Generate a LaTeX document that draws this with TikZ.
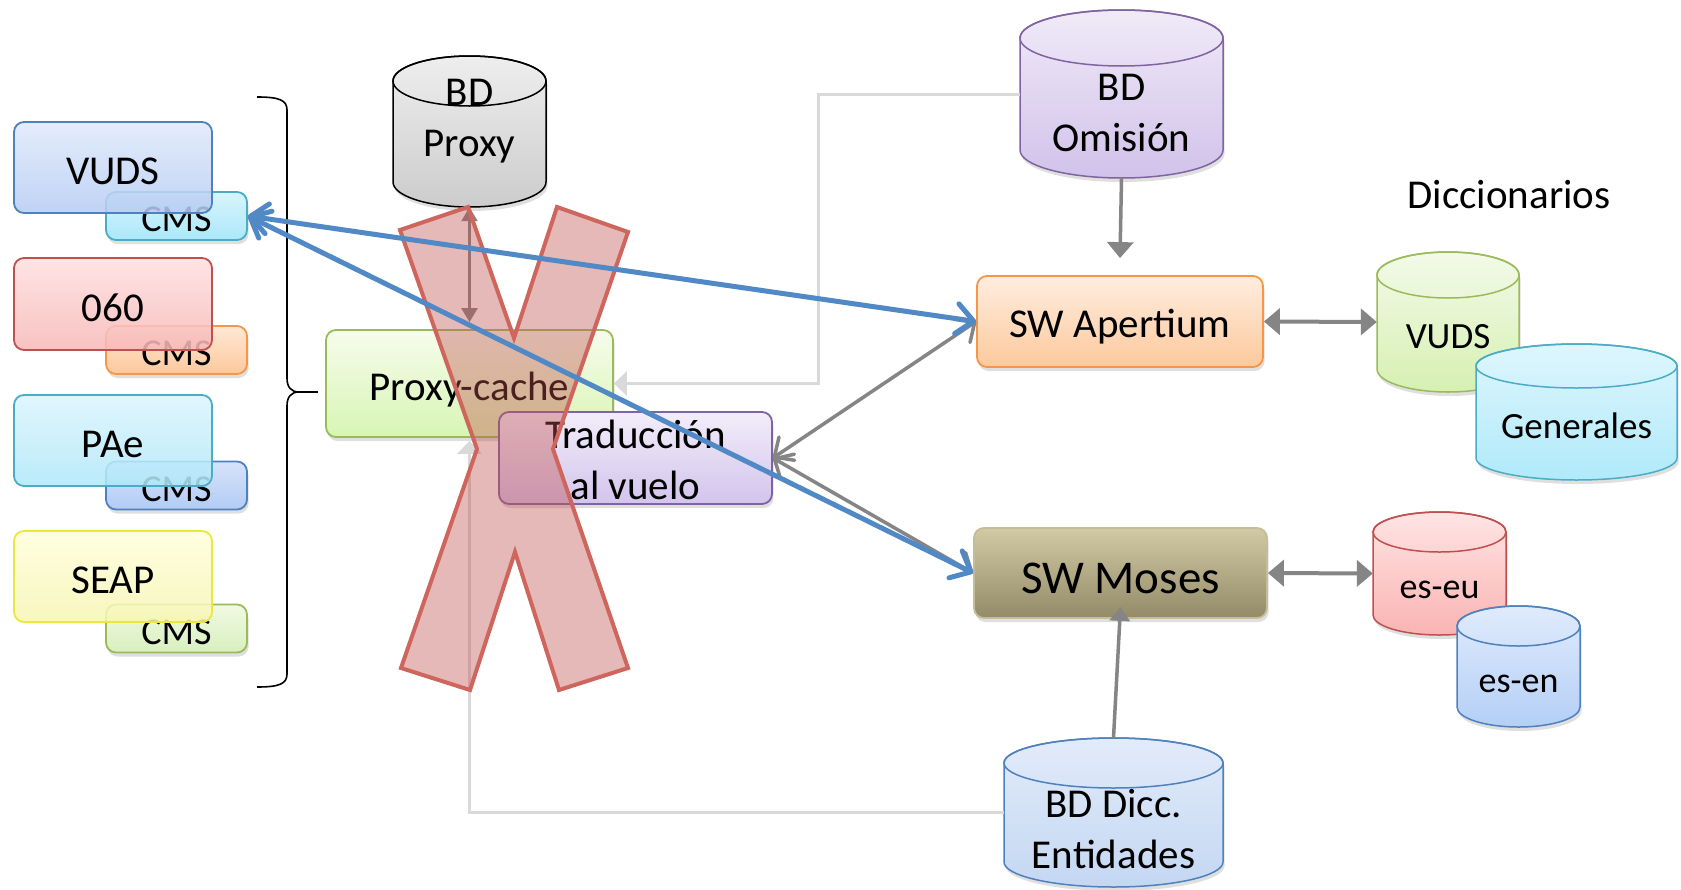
\documentclass[tikz,border=0pt]{standalone}
\usepackage{fontspec}
\setmainfont{Carlito}
\usetikzlibrary{arrows.meta,shadows,calc}
\definecolor{cBlue}{RGB}{80,137,198}
\definecolor{cGray}{RGB}{133,133,133}
\definecolor{cLight}{RGB}{217,217,217}
\definecolor{cXfill}{RGB}{192,80,77}
\definecolor{cXline}{RGB}{207,102,94}
\definecolor{bBlue}{RGB}{79,129,189}
\definecolor{bCyan}{RGB}{75,172,198}
\definecolor{bRed}{RGB}{192,80,77}
\definecolor{bOrange}{RGB}{247,150,70}
\definecolor{bGreen}{RGB}{155,187,89}
\definecolor{bYellow}{RGB}{235,232,60}
\definecolor{bPurple}{RGB}{128,100,162}
\definecolor{bTan}{RGB}{196,189,151}
% cylinder colour sets
\definecolor{cpxT}{RGB}{238,238,238}\definecolor{cpxB}{RGB}{204,204,204}\definecolor{cpxD}{RGB}{0,0,0}
\definecolor{comT}{RGB}{240,234,248}\definecolor{comB}{RGB}{209,194,234}\colorlet{comD}{bPurple}
\definecolor{cdiT}{RGB}{226,235,250}\definecolor{cdiB}{RGB}{196,215,242}\colorlet{cdiD}{bBlue}
\definecolor{cvuT}{RGB}{243,250,233}\definecolor{cvuB}{RGB}{214,240,178}\colorlet{cvuD}{bGreen}
\definecolor{cgeT}{RGB}{222,246,253}\definecolor{cgeB}{RGB}{176,234,250}\colorlet{cgeD}{bCyan}
\definecolor{ceuT}{RGB}{255,228,228}\definecolor{ceuB}{RGB}{249,180,178}\colorlet{ceuD}{bRed}
\definecolor{cenT}{RGB}{224,235,252}\definecolor{cenB}{RGB}{180,207,246}\colorlet{cenD}{bBlue}
% box colours
\definecolor{vudsT}{RGB}{224,234,252}\definecolor{vudsB}{RGB}{182,204,244}
\definecolor{cmsAT}{RGB}{216,244,252}\definecolor{cmsAB}{RGB}{172,232,250}
\definecolor{oT}{RGB}{255,224,224}\definecolor{oB}{RGB}{248,184,184}
\definecolor{cmsBT}{RGB}{255,232,213}\definecolor{cmsBB}{RGB}{252,200,156}
\definecolor{paeT}{RGB}{220,245,253}\definecolor{paeB}{RGB}{176,232,250}
\definecolor{cmsCT}{RGB}{214,227,250}\definecolor{cmsCB}{RGB}{178,204,245}
\definecolor{seapT}{RGB}{255,255,220}\definecolor{seapB}{RGB}{248,246,180}
\definecolor{cmsDT}{RGB}{240,250,227}\definecolor{cmsDB}{RGB}{216,239,190}
\definecolor{proxyT}{RGB}{246,252,236}\definecolor{proxyB}{RGB}{216,245,180}
\definecolor{tradT}{RGB}{242,237,250}\definecolor{tradB}{RGB}{211,196,236}
\definecolor{apT}{RGB}{255,237,224}\definecolor{apB}{RGB}{252,201,156}
\definecolor{moT}{RGB}{209,202,165}\definecolor{moB}{RGB}{147,139,103}
\newcommand\fsA{\fontsize{41pt}{51pt}\selectfont}
\newcommand\fsM{\fontsize{47pt}{56pt}\selectfont}
\newcommand\fsC{\fontsize{38pt}{46pt}\selectfont}
\newcommand\fsS{\fontsize{37pt}{45pt}\selectfont}
\newcommand\fsE{\fontsize{36pt}{44pt}\selectfont}
% #1 name, #2 x1, #3 y1, #4 x2, #5 y2, #6 ry, #7 colour set, #8 node options, #9 text
\newcommand\dbcyl[9]{%
 \pgfmathsetmacro\cylcx{(#2+#4)/2}%
 \pgfmathsetmacro\cylcy{(#3+#5)/2}%
 \pgfmathsetmacro\cylrx{(#4-#2)/2}%
 \pgfmathsetmacro\cylw{#4-#2}%
 \pgfmathsetmacro\cylh{#5-#3}%
 \draw[cyl, shad, draw=#7D, top color=#7T, bottom color=#7B]
   (#2,#3+#6) -- (#2,#5-#6) arc[start angle=180,end angle=0,x radius=\cylrx,y radius=#6]
   -- (#4,#3+#6) arc[start angle=0,end angle=-180,x radius=\cylrx,y radius=#6] -- cycle;
 \draw[cyl, draw=#7D] (\cylcx,#3+#6) ellipse[x radius=\cylrx, y radius=#6];
 \node[inner sep=0pt, minimum width=\cylw pt, minimum height=\cylh pt, #8] (#1) at (\cylcx,\cylcy) {\parbox[t]{\cylw pt}{\centering #9}};
}
\begin{document}
\begin{tikzpicture}[x=1pt,y=-1pt,
  rbox/.style={rounded corners=10pt, line width=1.8pt, inner sep=0pt, text depth=0pt},
  shad/.style={drop shadow={opacity=0.25, shadow xshift=1.5pt, shadow yshift=-4pt}},
  tbox/.style={fill opacity=0.86, text opacity=1},
  cyl/.style={line width=1.5pt},
  gline/.style={draw=cGray, line width=3.5pt},
  lline/.style={draw=cLight, line width=3pt},
  bline/.style={draw=cBlue, line width=5pt, >={Straight Barb[length=17pt,width=30pt,round]}, <->},
  gbarb/.style={gline, >={Straight Barb[length=15pt,width=28pt,round]}, <->},
  gtri/.style={gline, >={Triangle[width=26pt,length=16pt]}},
  ltri/.style={lline, >={Triangle[width=24pt,length=13pt]}, ->},
]
\useasboundingbox (0,0) rectangle (1681,889);
\fill[white] (0,0) rectangle (1681,889);

\coordinate (omcorner) at (818,383.5);

% ---------- left group ----------
\node[rbox, shad, top color=cmsAT, bottom color=cmsAB, draw=bCyan, minimum width=141pt, minimum height=48pt, text height=31pt, font=\fsC] (cms1) at (176.5,216) {CMS};
\node[rbox, tbox, top color=vudsT, bottom color=vudsB, draw=bBlue, minimum width=198pt, minimum height=91pt, text height=34pt, font=\fsA] (vuds) at (113,167.5) {VUDS};
\node[rbox, shad, top color=cmsBT, bottom color=cmsBB, draw=bOrange, minimum width=141pt, minimum height=48pt, text height=31pt, font=\fsC] (cms2) at (176.5,350) {CMS};
\node[rbox, tbox, top color=oT, bottom color=oB, draw=bRed, minimum width=198pt, minimum height=92pt, text height=34pt, font=\fsA] (n060) at (113,304) {060};
\node[rbox, shad, top color=cmsCT, bottom color=cmsCB, draw=bBlue, minimum width=141pt, minimum height=48pt, text height=31pt, font=\fsC] (cms3) at (176.5,485.5) {CMS};
\node[rbox, tbox, top color=paeT, bottom color=paeB, draw=bCyan, minimum width=198pt, minimum height=91pt, text height=34pt, font=\fsA] (pae) at (113,440.5) {PAe};
\node[rbox, shad, top color=cmsDT, bottom color=cmsDB, draw=bGreen, minimum width=141pt, minimum height=48pt, text height=31pt, font=\fsC] (cms4) at (176.5,628.5) {CMS};
\node[rbox, tbox, top color=seapT, bottom color=seapB, draw=bYellow, minimum width=198pt, minimum height=91pt, text height=34pt, font=\fsA] (seap) at (113,576.5) {SEAP};

% brace
\coordinate (bracetip) at (299,392);
\draw[black, line width=1.6pt] (257,97) .. controls (279,97) and (287,100) .. (287,110) -- (287,378)
  .. controls (287,387) and (291,392) .. (bracetip) .. controls (291,392) and (287,397) .. (287,406)
  -- (287,674) .. controls (287,684) and (279,687) .. (257,687);
\draw[black, line width=1.6pt] (bracetip) -- (318,392);

% ---------- cylinders ----------
\dbcyl{bdproxy}{393}{56}{546}{207}{25}{cpx}{text height=20pt, text depth=73pt, font=\fsA}{BD\\Proxy}
\dbcyl{bdom}{1020}{10}{1223}{178}{28}{com}{text height=40pt, text depth=28pt, font=\fsA}{BD\\Omisión}
\dbcyl{bdicc}{1004}{738}{1223}{887}{25}{cdi}{text height=40pt, text depth=31pt, font=\fsA}{BD Dicc.\\Entidades}
\dbcyl{vudsd}{1377}{252}{1519}{392}{23}{cvu}{text height=52pt, text depth=0pt, font=\fsS}{VUDS}
\dbcyl{gen}{1476}{344}{1677}{480}{22}{cge}{text height=52pt, text depth=0pt, font=\fsS}{Generales}
\dbcyl{eseu}{1373}{512}{1506}{635}{20}{ceu}{text height=49pt, text depth=0pt, font=\fsE}{es-eu}
\dbcyl{esen}{1457}{606}{1580}{727}{20}{cen}{text height=51pt, text depth=0pt, font=\fsE}{es-en}

% ---------- middle / right boxes ----------
\node[rbox, shad, top color=proxyT, bottom color=proxyB, draw=bGreen, minimum width=287pt, minimum height=107pt, text height=33pt, font=\fsA] (proxy) at (469.5,383.5) {Proxy-cache};
\node[rbox, shad, top color=tradT, bottom color=tradB, draw=bPurple, minimum width=273pt, minimum height=92pt, text height=20pt, text depth=40pt, font=\fsA] (trad) at (635.5,458) {\parbox[t]{273pt}{\centering Traducción\\al vuelo}};
\node[rbox, shad, top color=apT, bottom color=apB, draw=bOrange, minimum width=286pt, minimum height=91pt, text height=31pt, font=\fsA] (apertium) at (1120,321.5) {SW Apertium};
\node[rbox, shad, top color=moT, bottom color=moB, draw=bTan, minimum width=293pt, minimum height=90pt, text height=40pt, font=\fsM] (moses) at (1120.5,573) {SW Moses};

% ---------- light grey connectors ----------
\draw[ltri] (bdom.west) -| (omcorner) -- (proxy.east);
\draw[ltri] (bdicc.west) -| ([yshift=-3pt]proxy.south);

% BD Proxy <-> Proxy-cache
\draw[draw=cGray, line width=2.5pt, >={Triangle[width=16pt,length=14pt]}, <->] (bdproxy.south) -- ([yshift=7pt]proxy.north);

% ---------- the cross ----------
\draw[draw=cXline, line width=4pt, fill=cXfill, fill opacity=0.4, line join=miter]
  (400,230) -- (468,207) -- (514,338) -- (557,207) -- (628,232) -- (553,449) -- (628,668)
  -- (559,690) -- (515,552) -- (470,690) -- (401,668) -- (477,449) -- cycle;

% ---------- grey connectors ----------
\draw[gtri, ->] (bdom.south) -- ([yshift=17pt]apertium.north);
\draw[gtri, ->, >={Triangle[width=20pt,length=14pt]}] (bdicc.north) -- ([yshift=12pt]moses.south);
\draw[gtri, <->, line width=4pt] (apertium.east) -- (vudsd.west);
\draw[gtri, <->, line width=4pt] (moses.east) -- (eseu.west);
\draw[gbarb] (trad.east) -- (apertium.west);
\draw[gbarb] (trad.east) -- (moses.west);

% ---------- blue connectors ----------
\draw[bline] (cms1.east) -- (apertium.west);
\draw[bline] (cms1.east) -- (moses.west);

% label
\node[anchor=base, font=\fsA, inner sep=0pt] (dicc) at (1509,208) {Diccionarios};
\end{tikzpicture}
\end{document}
